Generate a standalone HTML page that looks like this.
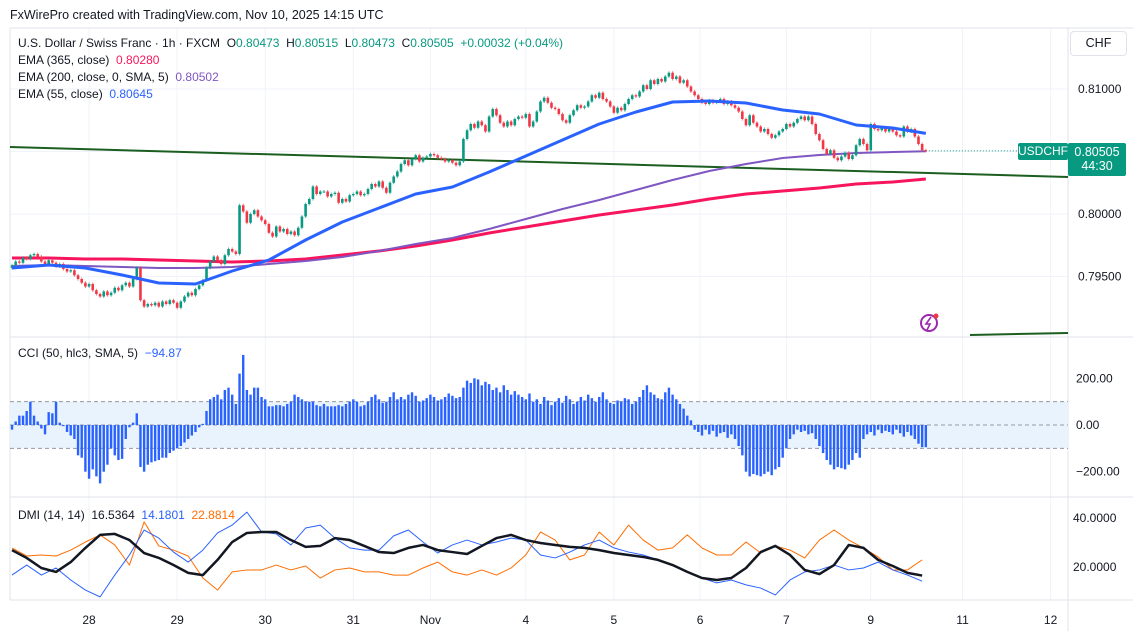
<!DOCTYPE html>
<html><head><meta charset="utf-8">
<style>
body{margin:0;width:1133px;height:631px;overflow:hidden;background:#fff;font-family:"Liberation Sans",sans-serif;}
#wrap{position:relative;width:1133px;height:631px;}
svg{position:absolute;left:0;top:0;}
.lg{position:absolute;font-size:12px;color:#131722;white-space:nowrap;}
.g{color:#089981}.r{color:#f23645}.p{color:#7e57c2}.b{color:#2962ff}.o{color:#ff6d00}.k{color:#131722}
</style></head><body>
<div id="wrap">
<svg id="svg" width="1133" height="631"></svg>
<div class="lg" style="left:10px;top:8px;font-size:12.5px">FxWirePro created with TradingView.com, Nov 10, 2025 14:15 UTC</div>
<div class="lg" style="left:18px;top:36px">U.S. Dollar / Swiss Franc · 1h · FXCM &nbsp;O<span class="g">0.80473</span> &nbsp;H<span class="g">0.80515</span> &nbsp;L<span class="g">0.80473</span> &nbsp;C<span class="g">0.80505</span> &nbsp;<span class="g">+0.00032 (+0.04%)</span></div>
<div class="lg" style="left:18px;top:53px">EMA (365, close) &nbsp;<span style="color:#f7165d">0.80280</span></div>
<div class="lg" style="left:18px;top:70px">EMA (200, close, 0, SMA, 5) &nbsp;<span class="p">0.80502</span></div>
<div class="lg" style="left:18px;top:87px">EMA (55, close) &nbsp;<span class="b">0.80645</span></div>
<div class="lg" style="left:18px;top:346px">CCI (50, hlc3, SMA, 5) &nbsp;<span class="b">−94.87</span></div>
<div class="lg" style="left:18px;top:508px">DMI (14, 14) &nbsp;<span>16.5364</span> &nbsp;<span style="color:#2962ff">14.1801</span> &nbsp;<span class="o">22.8814</span></div>
<div class="lg" style="left:1070px;top:31px;width:55px;height:23px;border:1px solid #e0e3eb;border-radius:4px;line-height:23px;text-align:center;font-size:12.5px">CHF</div>
<div class="lg" style="left:1018px;top:143px;width:50px;height:17px;background:#089981;color:#fff;line-height:17px;text-align:center;border-radius:2px">USDCHF</div>
<div class="lg" style="left:1068px;top:143px;width:58px;height:31px;background:#089981;color:#fff;line-height:14px;padding-top:2px;text-align:center;font-size:12.5px;border-radius:2px">0.80505<br>44:30</div>
</div>
<script>
// ---- data ----
const closes=[0.7959,0.7962,0.7961,0.7965,0.7964,0.7967,0.7968,
0.7966,0.7962,0.7960,0.7963,0.7961,0.7958,0.7960,
0.7956,0.7954,0.7955,0.7951,0.7948,
0.7945,0.7942,0.7944,0.7939,0.7936,0.7934,0.7938,
0.7935,0.7937,0.7941,0.7939,0.7943,0.7945,0.7942,0.7948,
0.7957,
0.7931,0.7926,0.7928,0.7927,0.7929,0.7926,0.7930,0.7928,0.7931,0.7929,0.7925,0.7930,
0.7934,0.7937,0.7935,0.7940,0.7943,0.7947,
0.7957,0.7962,0.7966,0.7963,
0.7960,0.7967,0.7972,0.7970,
0.7968,0.8007,
0.8002,0.7993,0.8000,0.8003,0.7998,0.7995,0.7992,
0.7985,0.7982,0.7990,0.7986,0.7988,0.7984,0.7986,0.7983,0.7989,
0.7998,0.8008,0.8012,
0.8022,0.8016,0.8018,
0.8018,0.8014,0.8016,0.8017,0.8009,0.8012,
0.8010,0.8015,0.8016,0.8018,0.8015,0.8016,0.8020,0.8024,0.8022,
0.8026,0.8021,0.8017,0.8025,0.8030,0.8034,
0.8040,0.8043,0.8039,0.8044,0.8047,0.8042,0.8045,
0.8046,0.8048,0.8047,0.8045,0.8044,0.8042,0.8043,0.8041,0.8039,0.8042,
0.8060,0.8067,0.8072,0.8069,0.8074,0.8071,0.8066,
0.8078,0.8084,0.8079,0.8073,0.8070,0.8074,0.8071,0.8076,
0.8078,0.8077,0.8080,0.8070,
0.8074,0.8082,0.8090,0.8093,0.8089,0.8085,0.8084,0.8080,0.8075,
0.8073,0.8079,0.8083,0.8087,0.8085,
0.8086,0.8090,0.8095,0.8093,0.8097,0.8092,
0.8090,0.8086,0.8081,0.8085,0.8083,0.8088,0.8092,0.8095,0.8094,
0.8098,0.8103,0.8100,0.8107,0.8104,0.8108,
0.8106,0.8110,0.8113,0.8108,
0.8110,0.8105,0.8107,0.8102,0.8098,0.8095,
0.8092,0.8089,0.8088,0.8091,0.8089,0.8090,0.8092,0.8088,0.8090,0.8087,0.8085,
0.8082,0.8076,0.8071,0.8079,0.8073,
0.8070,0.8066,0.8068,0.8064,0.8061,0.8063,0.8066,
0.8068,0.8072,0.8070,0.8073,0.8076,0.8078,0.8075,
0.8078,0.8072,0.8064,0.8059,
0.8052,0.8048,0.8051,0.8045,0.8043,0.8046,
0.8049,0.8044,0.8047,0.8055,
0.8060,0.8056,0.8051,
0.8072,
0.8068,0.8067,0.8069,0.8066,0.8068,0.8066,0.8063,0.8062,
0.8070,0.8066,0.8068,0.8062,0.8056,0.8051,0.80505];
const ema55=[0.79568,0.79592,0.79568,0.79512,0.79448,0.7944,0.79544,0.79632,0.79792,0.79936,0.80048,0.8016,0.80216,0.80336,0.80464,0.80592,0.8072,0.80816,0.80896,0.80904,0.80888,0.80832,0.808,0.80712,0.80688,0.80645];
const ema200=[0.79584,0.79592,0.79584,0.79576,0.79568,0.79568,0.79576,0.796,0.79624,0.79656,0.79704,0.7976,0.79808,0.7988,0.7996,0.8004,0.80112,0.80192,0.80272,0.80344,0.804,0.80448,0.80472,0.80488,0.80496,0.80502];
const ema365=[0.79648,0.79648,0.7964,0.7964,0.79632,0.79624,0.79616,0.79624,0.7964,0.79672,0.79704,0.79744,0.79792,0.79848,0.79896,0.79944,0.79992,0.80032,0.80072,0.8012,0.8016,0.80184,0.80208,0.8024,0.80256,0.8028];
const cci=[-20,15,40,40,60,100,40,15,-15,-40,55,50,100,10,-5,
-30,-45,-60,-130,
-140,-200,-230,-190,-220,-250,-200,-170,
-100,-130,-150,-145,-60,-10,10,50,
-180,-200,-170,-160,-155,-150,-140,-140,-120,-110,-100,-90,-75,-60,-45,-30,-10,5,
60,110,120,130,110,150,160,130,90,220,300,150,130,
160,160,120,110,80,80,85,85,80,90,
100,130,120,110,100,100,100,85,80,90,80,
80,80,85,80,90,100,110,100,80,85,100,120,130,110,95,100,120,140,110,
120,110,130,140,125,100,105,115,130,120,105,110,120,135,125,115,120,
160,190,180,200,195,170,185,175,150,160,140,170,150,130,145,
130,120,110,135,100,110,90,120,105,85,100,115,95,125,110,90,100,120,105,
130,115,100,120,140,110,95,90,105,100,115,110,90,100,
120,150,170,140,130,115,110,140,160,130,110,90,70,40,20,-20,
-30,-45,-20,-40,-25,-50,-35,-30,-55,-40,-60,-90,
-130,-200,-220,-210,-215,-220,-210,-200,-215,-190,-180,-140,-100,
-60,-40,-20,-30,-25,-40,-35,-60,-90,
-120,-150,-170,-190,-180,-185,-190,-170,-150,-120,-140,
-60,-40,-30,-45,-20,-35,-25,-30,-40,-20,-35,-50,-30,-45,-60,-80,-95,-95];
const adx=[26.9,23.7,19.6,18.0,22.0,27.8,33.1,33.5,31.0,25.7,23.7,20.8,17.6,16.7,22.9,30.2,33.9,34.3,34.3,31.0,28.2,28.6,31.8,31.0,28.6,26.1,25.7,27.8,29.0,26.9,26.1,25.3,28.6,31.8,33.1,31.0,29.8,29.0,28.2,27.8,26.9,25.7,24.9,24.1,22.9,20.8,18.0,15.5,14.7,15.5,19.6,26.1,28.6,24.9,18.8,17.1,20.8,29.0,27.8,22.9,20.4,17.6,16.5];
const plusDI=[16.7,20.8,16.7,19.6,14.7,10.6,7.8,16.7,24.9,35.1,31.8,26.1,22.0,26.9,33.9,37.1,42.4,34.3,33.5,29.0,35.9,37.1,31.8,27.8,26.9,26.9,32.7,35.1,30.2,25.7,29.0,31.0,29.0,30.2,31.8,31.0,24.9,23.7,26.1,29.0,31.0,27.8,26.1,24.9,22.9,20.8,18.0,15.5,13.5,14.7,12.7,11.4,8.6,14.7,18.0,18.8,20.8,18.8,19.6,22.0,18.8,16.7,14.2];
const minusDI=[27.8,24.5,24.9,24.5,26.9,30.2,33.1,29.0,20.8,38.4,28.6,26.9,24.5,15.5,10.6,18.0,18.8,18.8,20.8,18.8,20.4,15.5,18.8,19.6,18.0,18.0,16.7,16.7,19.6,22.0,18.0,16.7,18.8,16.7,19.6,24.9,34.3,31.0,22.9,24.9,34.3,29.0,37.1,31.0,26.9,27.8,33.1,27.8,24.9,24.9,30.2,25.7,28.6,26.9,23.7,31.0,35.1,31.0,27.8,24.1,18.8,18.8,22.9];
const xLabels=["28","29","30","31","Nov","4","5","6","7","9","11","12"];
const xLabelHours=[21,45,69,93,114,140,164,187.5,211,234,259,283];
const priceTicks=[0.81,0.805,0.80,0.795];
const priceTickLabels=["0.81000","","0.80000","0.79500"];
const cciTicks=[200,0,-200];
const cciTickLabels=["200.00","0.00","−200.00"];
const dmiTicks=[40,20];
const dmiTickLabels=["40.0000","20.0000"];
// ---- scales ----
const X0=12, DX=3.67;
const xAt=i=>X0+i*DX;
const yP=p=>214-(p-0.80)*12500;
const yC=v=>425-v*0.2335;
const yD=v=>567-(v-20)*2.45;
const svg=document.getElementById('svg');
const NS='http://www.w3.org/2000/svg';
function mk(tag,at){const e=document.createElementNS(NS,tag);for(const k in at)e.setAttribute(k,at[k]);svg.appendChild(e);return e;}
// grid + frame
xLabelHours.forEach((h,i)=>{
 const g=mk('line',{x1:xAt(h),x2:xAt(h),y1:28,y2:600,stroke:'#f0f3fa'});
 
 
 const t=mk('text',{x:xAt(h),y:624,'font-size':12,'text-anchor':'middle',fill:'#131722','font-family':'Liberation Sans'});
 t.textContent=xLabels[i];
 
 
});
priceTicks.forEach((p,i)=>{
 const g=mk('line',{x1:10,x2:1068,y1:yP(p),y2:yP(p),stroke:'#f0f3fa'});
 
 
 const t=mk('text',{x:1078,y:yP(p)+4,'font-size':12,fill:'#131722','font-family':'Liberation Sans'});
 t.textContent=priceTickLabels[i];
 
 
});
[[10,28,1133,28],[10,337,1133,337],[10,497,1133,497],[10,600,1133,600],[1068,28,1068,631],[10,28,10,600]].forEach(c=>{
 const l=mk('line',{x1:c[0],y1:c[1],x2:c[2],y2:c[3],stroke:'#e0e3eb'});
 
 
});
// CCI band
const band=mk('rect',{x:10,y:yC(100),width:1058,height:yC(-100)-yC(100),fill:'#e8f3fd'});


[100,0,-100].forEach(v=>{
 const l=mk('line',{x1:10,x2:1068,y1:yC(v),y2:yC(v),stroke:'#9598a1','stroke-dasharray':'4 3'});
 
 
});
cciTicks.forEach((v,i)=>{
 const t=mk('text',{x:1076,y:yC(v)+4,'font-size':12,fill:'#131722','font-family':'Liberation Sans'});
 t.textContent=cciTickLabels[i];
 
 
});
dmiTicks.forEach((v,i)=>{
 const t=mk('text',{x:1073,y:yD(v)+4,'font-size':12,fill:'#131722','font-family':'Liberation Sans'});
 t.textContent=dmiTickLabels[i];
 
 
});
// trendlines
const tl=mk('line',{x1:10,y1:147,x2:1068,y2:177,stroke:'#1b5e20','stroke-width':2});


const tl2=mk('line',{x1:970,y1:335,x2:1068,y2:333,stroke:'#1b5e20','stroke-width':2});


// last price dotted
const last=closes[closes.length-1];
const dl=mk('line',{x1:xAt(closes.length-1),x2:1068,y1:yP(last),y2:yP(last),stroke:'#089981','stroke-dasharray':'1 2'});


// EMAs
function poly(arr,step,yf,color,w,name){
 const pts=arr.map((v,i)=>xAt(Math.min(i*step,closes.length-1))+','+yf(v)).join(' ');
 const e=mk('polyline',{points:pts,fill:'none',stroke:color,'stroke-width':w,'stroke-linejoin':'round'});
 
 
}
poly(ema365,10,yP,'#f7165d',3,'ema365-line');
poly(ema200,10,yP,'#7e57c2',2,'ema200-line');
// candles
closes.forEach((c,i)=>{
 const o=i?closes[i-1]:c-0.0002;
 const up=c>=o, col=up?'#089981':'#f23645';
 const hi=Math.max(o,c)+0.00012, lo=Math.min(o,c)-0.00012;
 const x=xAt(i);
 const w=mk('line',{x1:x,x2:x,y1:yP(hi),y2:yP(lo),stroke:col,'stroke-width':1,opacity:0.7});
 
 
 const b=mk('rect',{x:x-1.3,y:yP(Math.max(o,c)),width:2.6,height:Math.max(1,Math.abs(yP(o)-yP(c))),fill:col});
 
 
});
poly(ema55,10,yP,'#2962ff',3,'ema55-line');
// CCI bars
cci.forEach((v,i)=>{
 const r=mk('rect',{x:xAt(i)-1.2,y:Math.min(yC(v),yC(0)),width:2.4,height:Math.abs(yC(v)-yC(0)),fill:'#2962ff'});
 
 
});
// DMI
poly(minusDI,4,yD,'#ff6d00',1,'minus-di-line');
poly(plusDI,4,yD,'#2962ff',1,'plus-di-line');
poly(adx,4,yD,'#131722',2.5,'adx-line');
// lightning icon
const ic=mk('circle',{cx:929,cy:323,r:8,fill:'none',stroke:'#9c27b0','stroke-width':2});


const ib=mk('path',{d:'M931 317 L926 324 L930 324 L927 330',fill:'none',stroke:'#9c27b0','stroke-width':1.6});


const idot=mk('circle',{cx:936,cy:316,r:2.5,fill:'#f23645'});


</script>
</body></html>
